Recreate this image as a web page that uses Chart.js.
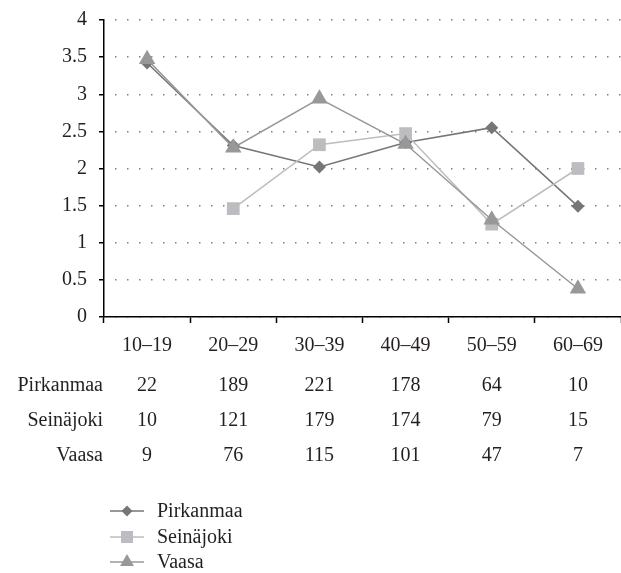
<!DOCTYPE html>
<html>
<head>
<meta charset="utf-8">
<script src="https://cdn.jsdelivr.net/npm/chart.js@4/dist/chart.umd.min.js"></script>
<style>
  html, body { margin: 0; padding: 0; background: #fff; }
  #wrap { width: 621px; height: 573px; }
</style>
</head>
<body>
<div id="wrap"><canvas id="ageChart" width="621" height="573"></canvas></div>
<script>
// data
const categories = ["10–19", "20–29", "30–39", "40–49", "50–59", "60–69"];
const pirkanmaa = [3.42, 2.31, 2.02, 2.35, 2.55, 1.49];
const seinajoki = [null, 1.46, 2.32, 2.47, 1.25, 2.0];
const vaasa = [3.47, 2.28, 2.94, 2.33, 1.31, 0.38];
const yTicks = [0, 0.5, 1, 1.5, 2, 2.5, 3, 3.5, 4];

// respondents per age group (table under the axis)
const tableRows = ["Pirkanmaa", "Seinäjoki", "Vaasa"];
const countsPirkanmaa = [22, 189, 221, 178, 64, 10];
const countsSeinajoki = [10, 121, 179, 174, 79, 15];
const countsVaasa = [9, 76, 115, 101, 47, 7];

const FONT = "'Liberation Serif', 'Times New Roman', serif";
const TEXT = "#231f20";
const FSIZE = 20;

const styles = {
  Pirkanmaa: { color: "#767676", point: "rectRot", r: 6.5, legendR: 5.5 },
  Seinäjoki: { color: "#bdbdc1", point: "rect", r: 9, legendR: 8.5 },
  Vaasa: { color: "#989898", point: "triangle", r: 9.5, legendR: 8 },
};

// table + legend under the plot
const extras = {
  id: "extras",
  afterDraw(chart) {
    const ctx = chart.ctx;
    const x = chart.scales.x;
    const counts = [countsPirkanmaa, countsSeinajoki, countsVaasa];
    ctx.save();
    ctx.fillStyle = TEXT;
    ctx.font = FSIZE + "px " + FONT;
    ctx.textBaseline = "middle";
    const rowY = [386, 421, 456];
    tableRows.forEach(function (name, r) {
      ctx.textAlign = "right";
      ctx.fillText(name, 103, rowY[r]);
      ctx.textAlign = "center";
      counts[r].forEach(function (v, i) {
        ctx.fillText(String(v), x.getPixelForValue(i), rowY[r]);
      });
    });

    const legY = [511, 537, 562];
    tableRows.forEach(function (name, r) {
      const s = styles[name];
      ctx.strokeStyle = s.color;
      ctx.lineWidth = 1.5;
      ctx.beginPath();
      ctx.moveTo(110, legY[r]);
      ctx.lineTo(144, legY[r]);
      ctx.stroke();
      ctx.fillStyle = s.color;
      Chart.helpers.drawPoint(ctx, {
        pointStyle: s.point, radius: s.legendR, rotation: 0, borderWidth: 0,
      }, 127, legY[r]);
      ctx.fillStyle = TEXT;
      ctx.textAlign = "left";
      ctx.fillText(name, 157, legY[r] + 1);
    });
    ctx.restore();
  },
};

function series(label, data, order) {
  const s = styles[label];
  return {
    label: label,
    data: data,
    order: order,
    borderColor: s.color,
    backgroundColor: s.color,
    borderWidth: 1.5,
    pointStyle: s.point,
    pointRadius: s.r,
    pointHoverRadius: s.r,
    pointBorderWidth: 0,
    pointBackgroundColor: s.color,
    spanGaps: false,
    tension: 0,
  };
}

new Chart(document.getElementById("ageChart"), {
  type: "line",
  data: {
    labels: categories,
    datasets: [
      series("Pirkanmaa", pirkanmaa, 2),
      series("Seinäjoki", seinajoki, 1),
      series("Vaasa", vaasa, 0),
    ],
  },
  options: {
    responsive: false,
    animation: false,
    devicePixelRatio: 1,
    layout: { autoPadding: false, padding: { top: 20, right: 0, bottom: 0, left: 0 } },
    plugins: { legend: { display: false }, tooltip: { enabled: false } },
    scales: {
      x: {
        offset: true,
        grid: {
          offset: true,
          drawOnChartArea: false,
          drawTicks: true,
          tickLength: 6,
          tickColor: "#000",
          tickWidth: 1.5,
        },
        border: { color: "#000", width: 1.5 },
        ticks: { color: TEXT, font: { family: FONT, size: FSIZE }, padding: 11, maxRotation: 0 },
        afterFit(scale) {
          scale.height = 256;
          scale.paddingLeft = 0;
          scale.paddingRight = 0;
        },
      },
      y: {
        min: 0,
        max: 4,
        afterBuildTicks(scale) { scale.ticks = yTicks.map(function (v) { return { value: v }; }); },
        grid: {
          color: "#808080",
          lineWidth: 1.5,
          drawTicks: true,
          tickLength: 5,
          tickColor: "#000",
          tickWidth: 1.5,
          tickBorderDash: [],
        },
        border: { color: "#000", width: 1.5, dash: [1.5, 10.5], dashOffset: 1.5 },
        ticks: {
          color: TEXT,
          font: { family: FONT, size: FSIZE },
          padding: 12,
          callback: function (v) { return String(v); },
        },
        afterFit(scale) {
          scale.width = 104;
          scale.paddingTop = 0;
          scale.paddingBottom = 0;
        },
      },
    },
  },
  plugins: [extras],
});
</script>
</body>
</html>
